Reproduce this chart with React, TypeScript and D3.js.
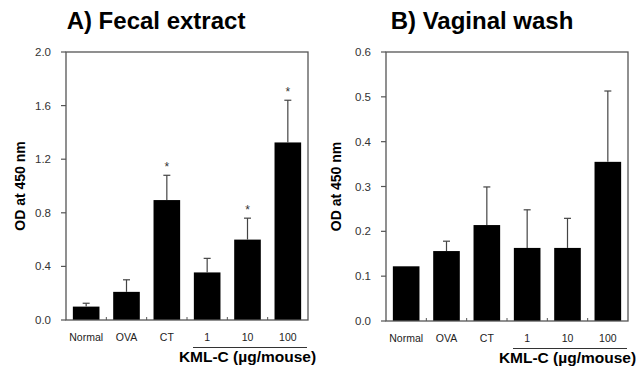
import React from "react";
import * as d3 from "d3";

// groups on the x axis
const groups = ["Normal", "OVA", "CT", "1", "10", "100"];

// A) fecal extract
const fecalMean = [0.1, 0.21, 0.895, 0.355, 0.6, 1.325];
const fecalErr = [0.025, 0.09, 0.185, 0.105, 0.16, 0.315];
const fecalStar = [false, false, true, false, true, true];
const fecalTicks = [0, 0.4, 0.8, 1.2, 1.6, 2.0];

// B) vaginal wash
const vaginalMean = [0.122, 0.156, 0.214, 0.163, 0.163, 0.355];
const vaginalErr = [0, 0.022, 0.085, 0.085, 0.066, 0.158];
const vaginalStar = [false, false, false, false, false, false];
const vaginalTicks = [0, 0.1, 0.2, 0.3, 0.4, 0.5, 0.6];

const FONT = "'Liberation Sans', Arial, sans-serif";

type PanelProps = {
  title: string;
  mean: number[];
  err: number[];
  star: boolean[];
  ticks: number[];
  yMax: number;
  left: number;
  right: number;
  top: number;
  bottom: number;
  titleX: number;
  labelX: number;
};

const Panel = (p: PanelProps) => {
  const x = d3
    .scaleBand<string>()
    .domain(groups)
    .range([p.left, p.right])
    .paddingInner(0.34)
    .paddingOuter(0.17);
  const y = d3.scaleLinear().domain([0, p.yMax]).range([p.bottom, p.top]);
  const step = x.step();
  const bw = x.bandwidth();
  const frame = "#555";
  const fmt = d3.format(".1f");

  // underline under the KML-C doses
  const kmlStart = p.left + step * 3;

  return (
    <g>
      <text x={p.titleX} y={29} textAnchor="middle" fontFamily={FONT} fontSize={24} fontWeight="bold">
        {p.title}
      </text>

      {/* bars and error bars */}
      {groups.map((g, i) => {
        const cx = (x(g) as number) + bw / 2;
        const top = y(p.mean[i]);
        const et = y(p.mean[i] + p.err[i]);
        return (
          <g key={g}>
            <rect x={x(g)} y={top} width={bw} height={p.bottom - top} fill="#000" />
            {p.err[i] > 0 && (
              <g stroke="#444" strokeWidth={1.2}>
                <line x1={cx} x2={cx} y1={top} y2={et} />
                <line x1={cx - 3.5} x2={cx + 3.5} y1={et} y2={et} />
              </g>
            )}
            {p.star[i] && (
              <text x={cx} y={et - 4} textAnchor="middle" fontFamily={FONT} fontSize={12} fill="#333">
                *
              </text>
            )}
          </g>
        );
      })}

      {/* frame */}
      <rect x={p.left} y={p.top} width={p.right - p.left} height={p.bottom - p.top} fill="none" stroke={frame} strokeWidth={1.3} />

      {/* y ticks */}
      {p.ticks.map((t) => (
        <g key={t}>
          <line x1={p.left - 5} x2={p.left} y1={y(t)} y2={y(t)} stroke={frame} strokeWidth={1.2} />
          <text x={p.left - 15} y={y(t) + 4} textAnchor="end" fontFamily={FONT} fontSize={11.5} fill="#333">
            {fmt(t)}
          </text>
        </g>
      ))}

      {/* x ticks at band boundaries, pointing in */}
      {d3.range(1, groups.length).map((k) => (
        <line key={k} x1={p.left + step * k} x2={p.left + step * k} y1={p.bottom} y2={p.bottom - 3} stroke={frame} strokeWidth={1} />
      ))}

      {groups.map((g) => (
        <text key={g} x={(x(g) as number) + bw / 2} y={p.bottom + 21} textAnchor="middle" fontFamily={FONT} fontSize={10.5} fill="#222">
          {g}
        </text>
      ))}

      <line x1={kmlStart + 6} x2={p.right - 1} y1={p.bottom + 27.5} y2={p.bottom + 27.5} stroke="#333" strokeWidth={1.2} />
      <text x={(kmlStart + p.right) / 2} y={p.bottom + 42} textAnchor="middle" fontFamily={FONT} fontSize={15.5} fontWeight="bold">
        KML-C (µg/mouse)
      </text>

      <text
        transform={`translate(${p.labelX},${(p.top + p.bottom) / 2}) rotate(-90)`}
        textAnchor="middle"
        fontFamily={FONT}
        fontSize={14}
        fontWeight="bold"
      >
        OD at 450 nm
      </text>
    </g>
  );
};

const App = () => {
  return (
    <svg width={637} height={370} style={{ position: "absolute", left: 0, top: 0, background: "#fff" }}>
      <Panel
        title="A) Fecal extract"
        mean={fecalMean}
        err={fecalErr}
        star={fecalStar}
        ticks={fecalTicks}
        yMax={2.0}
        left={66}
        right={308}
        top={52}
        bottom={320}
        titleX={156}
        labelX={25}
      />
      <Panel
        title="B) Vaginal wash"
        mean={vaginalMean}
        err={vaginalErr}
        star={vaginalStar}
        ticks={vaginalTicks}
        yMax={0.6}
        left={386}
        right={628}
        top={52}
        bottom={321}
        titleX={482}
        labelX={341}
      />
    </svg>
  );
};

export default App;
